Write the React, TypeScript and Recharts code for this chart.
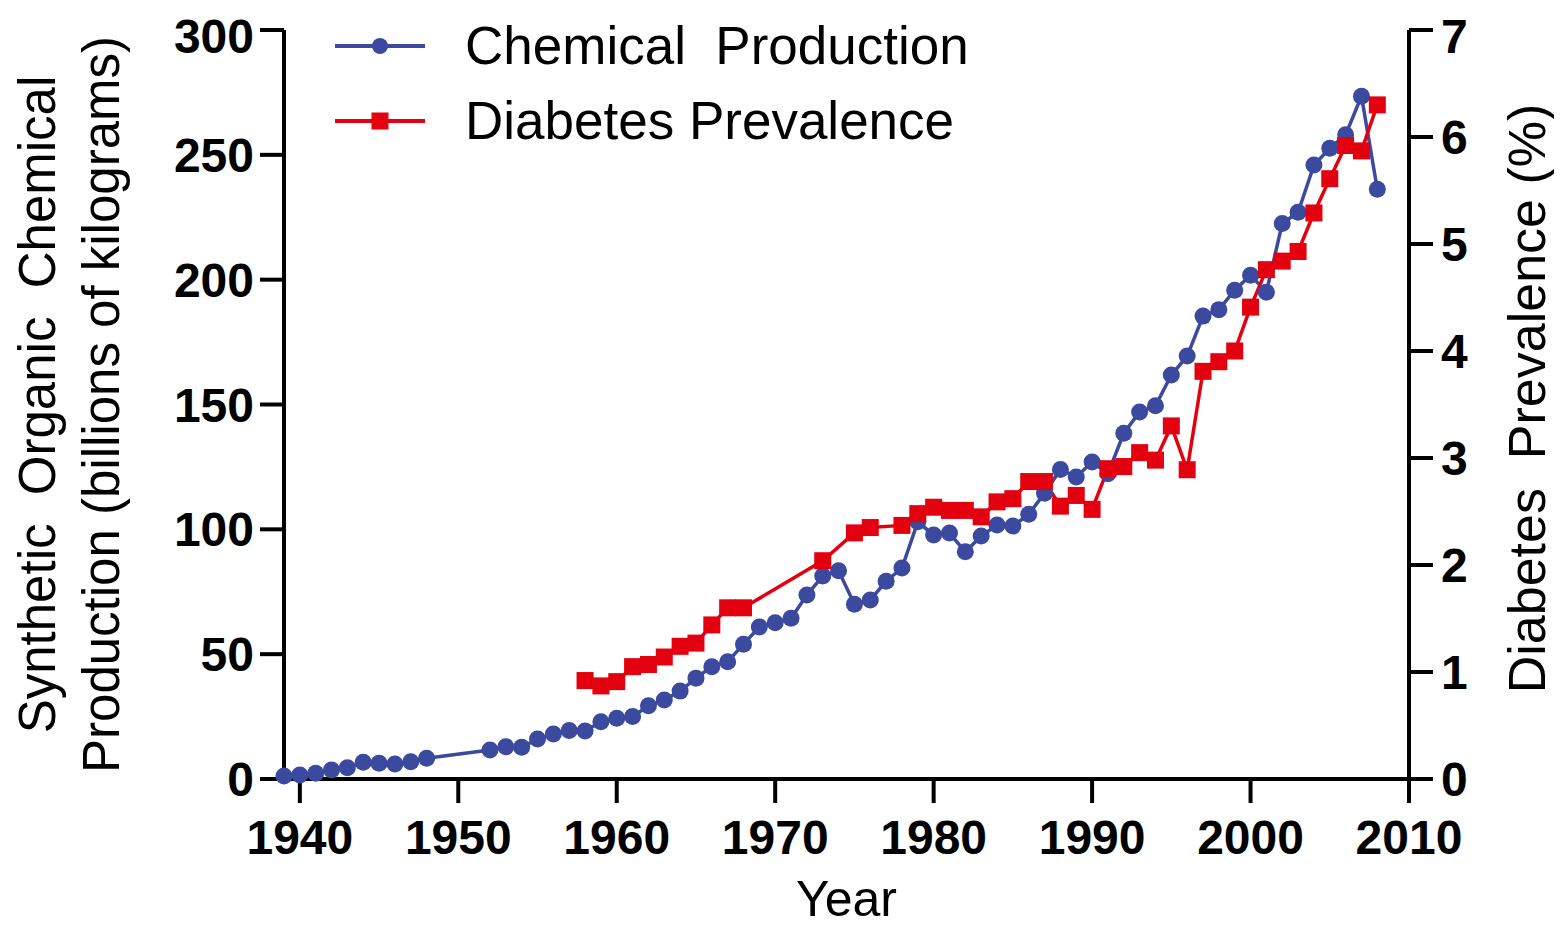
import { LineChart, Line, XAxis, YAxis, Legend, Label } from "recharts";

const chemYears = [
  1939, 1940, 1941, 1942, 1943, 1944, 1945, 1946, 1947, 1948,
  1952, 1953, 1954, 1955, 1956, 1957, 1958, 1959, 1960, 1961,
  1962, 1963, 1964, 1965, 1966, 1967, 1968, 1969, 1970, 1971,
  1972, 1973, 1974, 1975, 1976, 1977, 1978, 1979, 1980, 1981,
  1982, 1983, 1984, 1985, 1986, 1987, 1988, 1989, 1990, 1991,
  1992, 1993, 1994, 1995, 1996, 1997, 1998, 1999, 2000, 2001,
  2002, 2003, 2004, 2005, 2006, 2007, 2008,
];
const chemValues = [
  1.2, 1.6, 2.3, 3.6, 4.5, 6.7, 6.3, 6.0, 6.9, 8.3,
  11.6, 12.9, 12.7, 16.0, 18.0, 19.4, 19.2, 22.9, 24.3, 25.0,
  29.3, 31.6, 35.2, 40.4, 45.0, 47.0, 54.0, 60.9, 62.6, 64.4,
  73.7, 81.3, 83.4, 70.0, 71.7, 79.2, 84.5, 103.0, 97.7, 98.5,
  91.0, 97.3, 101.7, 101.3, 106.0, 114.5, 124.0, 121.0, 127.0, 122.3,
  138.5, 147.0, 149.5, 161.8, 169.4, 185.4, 188.0, 195.8, 201.8, 195.0,
  222.5, 227.0, 245.9, 252.6, 258.0, 273.5, 236.2,
];

const diabYears = [
  1958, 1959, 1960, 1961, 1962, 1963, 1964, 1965, 1966, 1967, 1968,
  1973, 1975, 1976, 1978, 1979, 1980, 1981, 1982, 1983, 1984, 1985,
  1986, 1987, 1988, 1989, 1990, 1991, 1992, 1993, 1994, 1995, 1996,
  1997, 1998, 1999, 2000, 2001, 2002, 2003, 2004, 2005, 2006, 2007, 2008,
];
const diabValues = [
  0.92, 0.87, 0.91, 1.05, 1.07, 1.14, 1.24, 1.27, 1.44, 1.6, 1.6,
  2.04, 2.3, 2.35, 2.37, 2.48, 2.54, 2.51, 2.51, 2.45, 2.59, 2.62,
  2.78, 2.78, 2.55, 2.65, 2.52, 2.9, 2.92, 3.05, 2.98, 3.3, 2.89,
  3.81, 3.9, 4.0, 4.41, 4.76, 4.84, 4.93, 5.29, 5.61, 5.92, 5.87, 6.3,
];

const yearTicks = [1940, 1950, 1960, 1970, 1980, 1990, 2000, 2010];
const chemTicks = [0, 50, 100, 150, 200, 250, 300];
const diabTicks = [0, 1, 2, 3, 4, 5, 6, 7];

const chemData = chemYears.map((year, i) => ({ year, chem: chemValues[i] }));
const diabData = diabYears.map((year, i) => ({ year, diab: diabValues[i] }));

const BLUE = "#3b4a9e";
const RED = "#e3000f";
const FONT = "'Liberation Sans', Arial, Helvetica, sans-serif";

const axisStroke = { stroke: "#000", strokeWidth: 4 };
const tickStyle = { fill: "#000", fontSize: 48, fontWeight: 700, fontFamily: FONT };

const renderSquare = (props: any) => {
  const { cx, cy, index } = props;
  if (cx == null || cy == null) return <g key={`sq-${index}`} />;
  return <rect key={`sq-${index}`} x={cx - 8.5} y={cy - 8.5} width={17} height={17} fill={RED} />;
};

const renderLegend = (props: any) => {
  const { payload = [] } = props;
  return (
    <div style={{ fontFamily: FONT, fontSize: 53, color: "#000" }}>
      {payload.map((entry: any) => {
        const isDiab = entry.dataKey === "diab";
        const color = isDiab ? RED : BLUE;
        return (
          <div key={entry.value} style={{ display: "flex", alignItems: "center", height: 75 }}>
            <svg width={90} height={20} style={{ marginRight: 40 }}>
              <line x1={0} y1={10} x2={90} y2={10} stroke={color} strokeWidth={4} />
              {isDiab ? (
                <rect x={36.5} y={1.5} width={17} height={17} fill={color} />
              ) : (
                <circle cx={45} cy={10} r={8} fill={color} />
              )}
            </svg>
            <span style={{ whiteSpace: "pre", lineHeight: 1 }}>{entry.value}</span>
          </div>
        );
      })}
    </div>
  );
};

const leftTitle = (props: any) => {
  const { viewBox } = props;
  const cy = viewBox.y + viewBox.height / 2;
  return (
    <g fontFamily={FONT} fontSize={51} fill="#000">
      <text x={47} y={cy} textAnchor="middle" transform={`rotate(-90, 47, ${cy})`} style={{ whiteSpace: "pre" }}>
        Synthetic  Organic  Chemical
      </text>
      <text x={111} y={cy} textAnchor="middle" transform={`rotate(-90, 111, ${cy})`}>
        Production (billions of kilograms)
      </text>
    </g>
  );
};

const rightTitle = (props: any) => {
  const { viewBox } = props;
  const cy = viewBox.y + viewBox.height / 2 - 6;
  const x = 1537;
  return (
    <text
      x={x}
      y={cy}
      textAnchor="middle"
      transform={`rotate(-90, ${x}, ${cy})`}
      fontFamily={FONT}
      fontSize={52}
      fill="#000"
      style={{ whiteSpace: "pre" }}
    >
      Diabetes  Prevalence (%)
    </text>
  );
};

export default function App() {
  return (
    <div style={{ width: 1554, height: 921, background: "#fff" }}>
      <LineChart width={1554} height={921} margin={{ top: 22, right: 0, bottom: 0, left: 0 }}>
        <XAxis
          type="number"
          dataKey="year"
          domain={[1939, 2010]}
          ticks={yearTicks}
          height={150}
          axisLine={axisStroke}
          tickLine={axisStroke}
          tickSize={24}
          tickMargin={17}
          tick={tickStyle}
        >
          <Label
            value="Year"
            position="insideBottom"
            offset={13}
            style={{ fontFamily: FONT, fontSize: 50, fill: "#000" }}
          />
        </XAxis>
        <YAxis
          yAxisId="left"
          domain={[0, 300]}
          ticks={chemTicks}
          width={276}
          axisLine={axisStroke}
          tickLine={axisStroke}
          tickSize={24}
          tickMargin={6}
          tick={tickStyle}
        >
          <Label content={leftTitle} />
        </YAxis>
        <YAxis
          yAxisId="right"
          orientation="right"
          domain={[0, 7]}
          ticks={diabTicks}
          width={153}
          axisLine={axisStroke}
          tickLine={axisStroke}
          tickSize={24}
          tickMargin={8}
          tick={tickStyle}
        >
          <Label content={rightTitle} />
        </YAxis>
        <Legend
          layout="vertical"
          align="center"
          verticalAlign="middle"
          content={renderLegend}
          wrapperStyle={{ left: 327, top: 0, width: 700 }}
        />
        <Line
          yAxisId="left"
          data={chemData}
          dataKey="chem"
          name="Chemical  Production"
          stroke={BLUE}
          strokeWidth={3.5}
          dot={{ r: 8.5, fill: BLUE, stroke: BLUE, strokeWidth: 0 }}
          activeDot={false}
          isAnimationActive={false}
        />
        <Line
          yAxisId="right"
          data={diabData}
          dataKey="diab"
          name="Diabetes Prevalence"
          stroke={RED}
          strokeWidth={3.5}
          dot={renderSquare}
          activeDot={false}
          isAnimationActive={false}
        />
      </LineChart>
    </div>
  );
}
